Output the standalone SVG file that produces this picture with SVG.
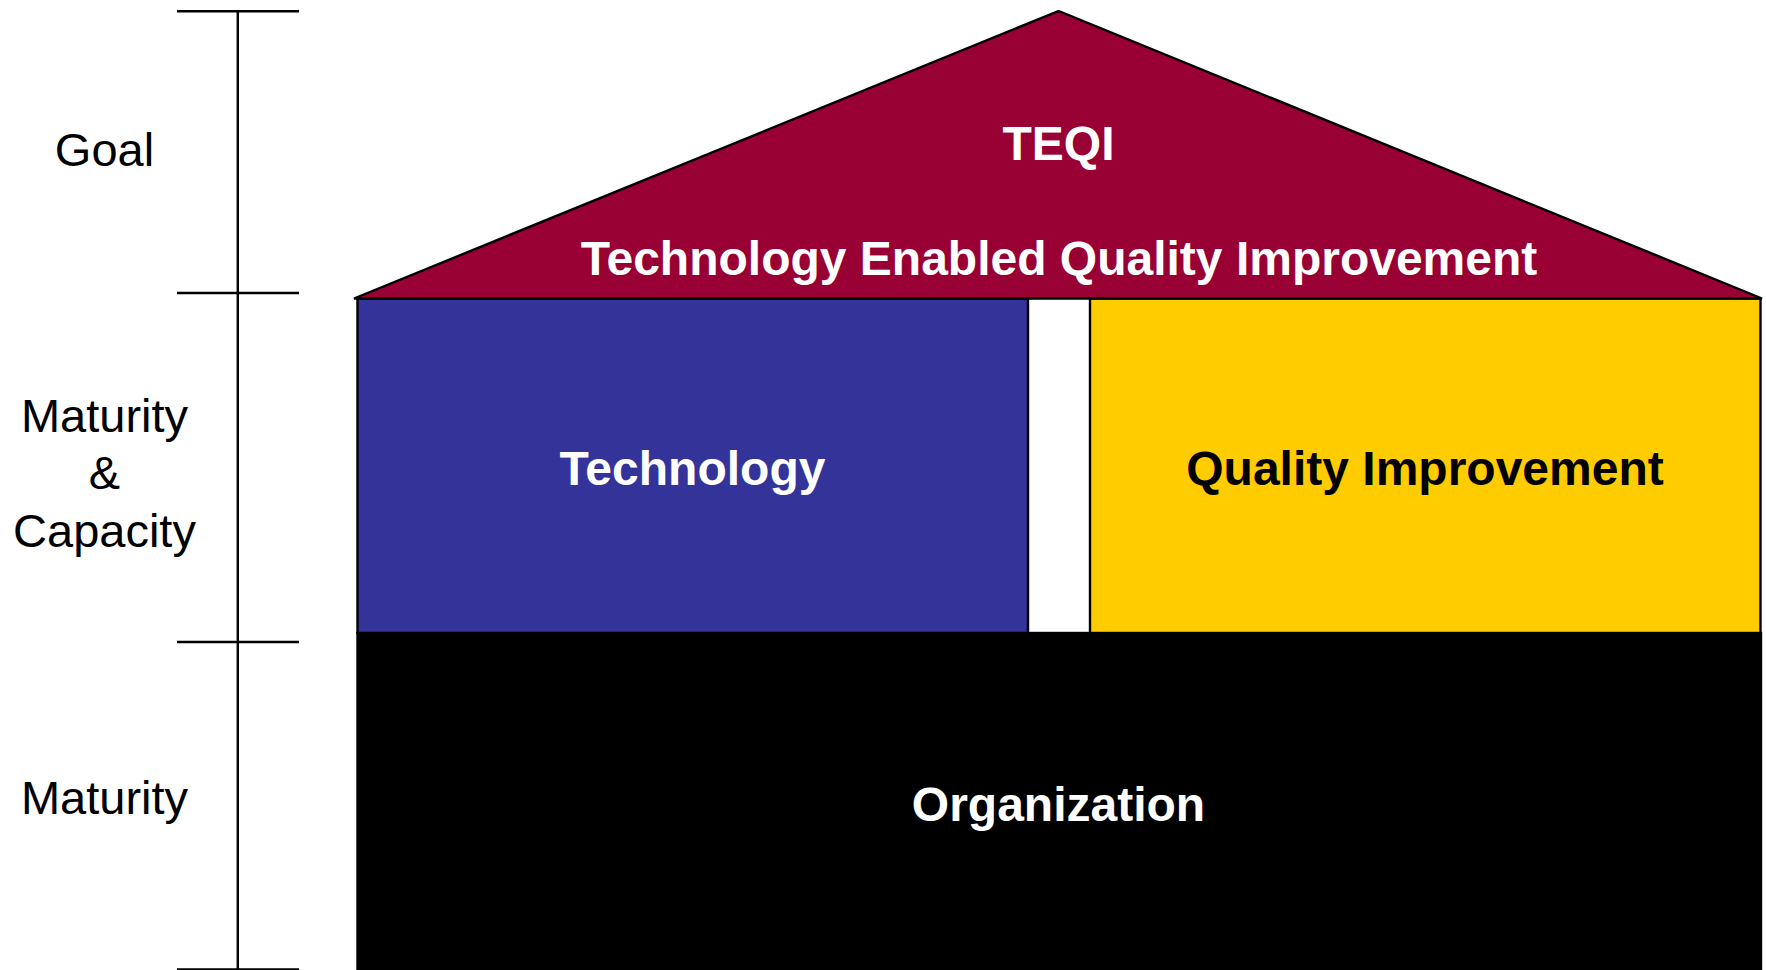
<svg xmlns="http://www.w3.org/2000/svg" width="1766" height="970" viewBox="0 0 1766 970">
<style>
.ln{stroke:#000;stroke-width:2.4;fill:none}
.box{stroke:#000;stroke-width:2.4}
.lbl{font-family:"Liberation Sans",Arial,sans-serif;font-size:47px;fill:#000;text-anchor:middle}
.big{font-family:"Liberation Sans",Arial,sans-serif;font-size:48px;font-weight:bold;text-anchor:middle}
</style>
<rect width="1766" height="970" fill="#fff"/>
<g id="scale">
<line class="ln" x1="237.8" y1="11.3" x2="237.8" y2="972"/>
<line class="ln" x1="177" y1="11.3" x2="299" y2="11.3"/>
<line class="ln" x1="177" y1="293" x2="299" y2="293"/>
<line class="ln" x1="177" y1="642" x2="299" y2="642"/>
<line class="ln" x1="177" y1="969.5" x2="299" y2="969.5"/>
</g>
<g id="labels">
<text class="lbl" x="104.5" y="165.5">Goal</text>
<text class="lbl" x="104.5" y="432">Maturity</text>
<text class="lbl" x="104.5" y="489">&amp;</text>
<text class="lbl" x="104.5" y="546.5">Capacity</text>
<text class="lbl" x="104.5" y="814">Maturity</text>
</g>
<g id="organization">
<rect class="box" x="357.5" y="633" width="1403.5" height="340" fill="#000"/>
<text class="big" x="1058.5" y="821" fill="#fff">Organization</text>
</g>
<g id="technology">
<rect class="box" x="357.5" y="298.5" width="670.5" height="334.5" fill="#333399"/>
<text class="big" x="692.5" y="485" fill="#fff">Technology</text>
</g>
<g id="quality-improvement">
<rect class="box" x="1090" y="298.5" width="670.5" height="334.5" fill="#FFCC00"/>
<text class="big" x="1425" y="485" fill="#000">Quality Improvement</text>
</g>
<g id="roof">
<polygon class="box" points="354,298.5 1058.6,11 1762,298.5" fill="#990033" stroke-linejoin="miter"/>
<text class="big" x="1058.5" y="160" fill="#fff">TEQI</text>
<text class="big" x="1059" y="275" fill="#fff">Technology Enabled Quality Improvement</text>
</g>
<g id="connectors"></g>
</svg>
